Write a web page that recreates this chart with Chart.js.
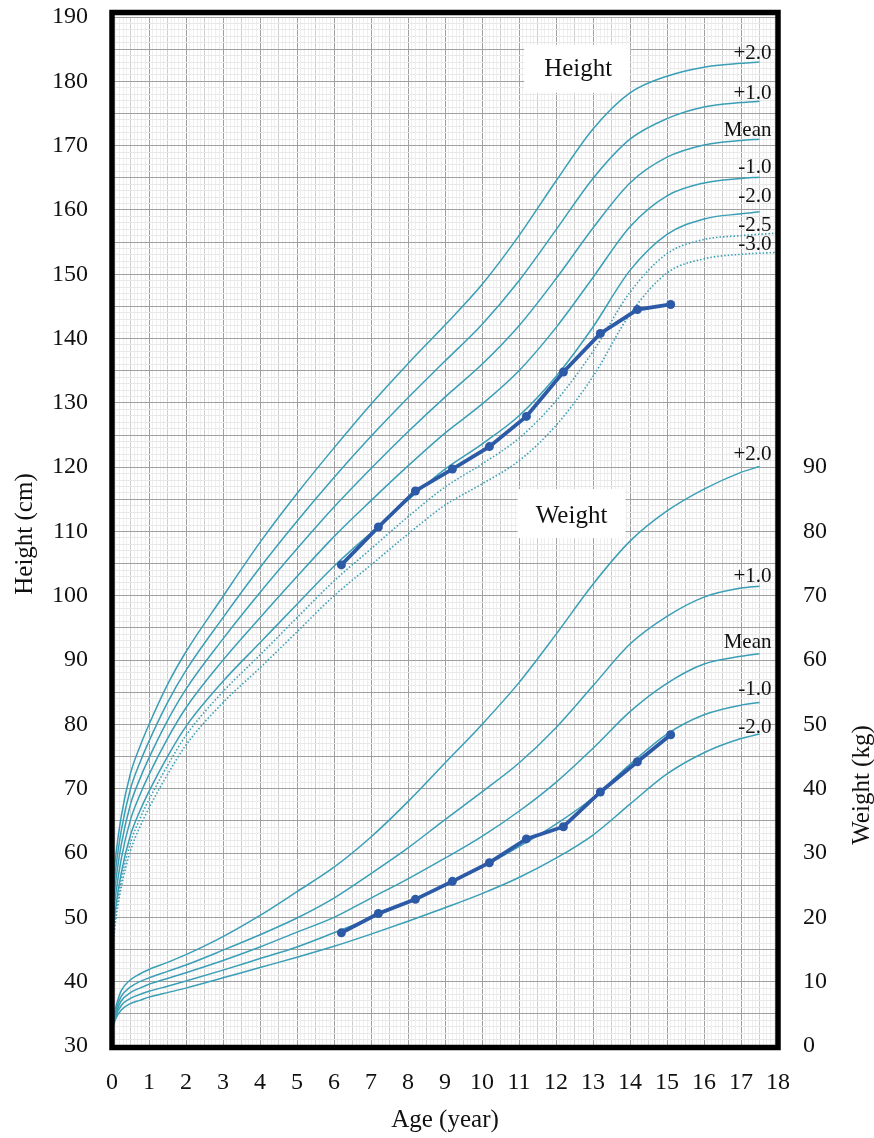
<!DOCTYPE html>
<html>
<head>
<meta charset="utf-8">
<title>Growth chart</title>
<script src="https://cdn.jsdelivr.net/npm/chart.js@4.4.1/dist/chart.umd.min.js"></script>
<style>
  html, body { margin: 0; padding: 0; background: #fff; }
  #wrap { width: 874px; height: 1138px; position: relative; }
</style>
</head>
<body>
<div id="wrap"><canvas id="growth"></canvas></div>
<script>
// --- Data ---
const ages = [0, 0.1, 0.25, 0.5, 0.75, 1, 1.5, 2, 3, 4, 5, 6, 7, 8, 9, 10, 11, 12, 13, 14, 15, 16, 17, 17.5];
const dottedAges = [0, 0.1, 0.25, 0.5, 0.75, 1, 1.5, 2, 3, 4, 5, 6, 7, 8, 9, 10, 11, 12, 13, 14, 15, 16, 17, 18];

// Height reference curves (cm)
const heightP2   = [53.8, 59.5, 65.7, 72.4, 76.5, 80.0, 86.2, 91.3, 99.9, 108.3, 115.9, 123.0, 129.8, 136.1, 142.1, 148.4, 156.0, 164.5, 172.6, 178.2, 180.8, 182.2, 182.8, 183.0];
const heightP1   = [51.9, 57.5, 63.5, 70.0, 74.0, 77.4, 83.4, 88.4, 96.6, 104.4, 111.6, 118.4, 124.8, 130.8, 136.5, 142.2, 149.0, 156.9, 164.9, 171.0, 174.2, 176.0, 176.7, 176.9];
const heightMean = [50.0, 55.5, 61.3, 67.6, 71.5, 74.8, 80.6, 85.5, 93.3, 100.5, 107.3, 113.8, 119.8, 125.5, 130.9, 136.0, 142.0, 149.3, 157.2, 164.2, 168.2, 170.1, 170.8, 171.0];
const heightM1   = [48.1, 53.5, 59.1, 65.2, 69.0, 72.2, 77.8, 82.6, 90.0, 96.6, 103.0, 109.2, 114.8, 120.2, 125.3, 129.8, 135.0, 141.7, 149.5, 157.4, 162.2, 164.2, 164.9, 165.1];
const heightM2   = [46.2, 51.5, 56.9, 62.8, 66.5, 69.6, 75.0, 79.7, 86.7, 92.7, 98.7, 104.6, 109.8, 114.9, 119.7, 123.6, 128.0, 134.1, 141.8, 150.6, 156.2, 158.6, 159.4, 159.7];
const heightM25  = [45.3, 50.5, 55.8, 61.6, 65.3, 68.3, 73.6, 78.3, 85.1, 90.8, 96.6, 102.3, 107.3, 112.3, 116.9, 120.5, 124.5, 130.3, 138.0, 147.2, 153.2, 155.4, 156.0, 156.4];
const heightM3   = [44.3, 49.5, 54.7, 60.4, 64.0, 67.0, 72.2, 76.8, 83.4, 88.8, 94.4, 100.0, 104.8, 109.6, 114.1, 117.4, 121.0, 126.5, 134.1, 143.8, 150.2, 152.4, 153.1, 153.4];

// Weight reference curves (kg)
const weightP2   = [3.6, 6.0, 8.6, 10.3, 11.2, 11.9, 13.0, 14.2, 17.0, 20.3, 24.0, 27.8, 32.5, 38.0, 44.0, 50.0, 56.5, 64.0, 71.8, 78.5, 83.2, 86.6, 89.2, 90.1];
const weightP1   = [3.3, 5.5, 7.7, 9.2, 10.0, 10.6, 11.6, 12.6, 14.9, 17.3, 19.9, 23.0, 26.8, 30.8, 35.2, 39.5, 44.0, 49.5, 56.0, 62.5, 66.8, 69.8, 71.2, 71.5];
const weightMean = [3.0, 5.0, 7.0, 8.3, 9.0, 9.6, 10.5, 11.4, 13.3, 15.4, 17.7, 20.0, 23.0, 26.0, 29.2, 32.6, 36.5, 41.0, 46.3, 52.0, 56.4, 59.4, 60.6, 61.0];
const weightM1   = [2.7, 4.6, 6.3, 7.4, 8.0, 8.5, 9.3, 10.1, 11.8, 13.6, 15.4, 17.6, 19.9, 22.4, 25.0, 27.8, 31.0, 34.5, 38.6, 43.8, 48.5, 51.5, 53.0, 53.4];
const weightM2   = [2.4, 4.2, 5.6, 6.6, 7.1, 7.6, 8.3, 9.0, 10.6, 12.2, 13.8, 15.5, 17.4, 19.4, 21.5, 23.7, 26.2, 29.2, 32.8, 37.6, 42.3, 45.6, 47.8, 48.5];

// Patient measurements
const patientAges   = [6.2, 7.2, 8.2, 9.2, 10.2, 11.2, 12.2, 13.2, 14.2, 15.1];
const patientHeight = [104.8, 110.7, 116.3, 119.7, 123.2, 127.9, 134.8, 140.8, 144.5, 145.3];
const patientWeight = [17.6, 20.6, 22.8, 25.6, 28.5, 32.2, 34.1, 39.5, 44.2, 48.4];

// Tick labels
const ageTicks = [0, 1, 2, 3, 4, 5, 6, 7, 8, 9, 10, 11, 12, 13, 14, 15, 16, 17, 18];
const heightTicks = [30, 40, 50, 60, 70, 80, 90, 100, 110, 120, 130, 140, 150, 160, 170, 180, 190];
const weightTicks = [0, 10, 20, 30, 40, 50, 60, 70, 80, 90];

const SERIF = '"Liberation Serif", "Times New Roman", serif';
const CURVE = '#3a9fb6';
const PATIENT = '#2c5aa6';

const pts = (xs, ys) => ys.map((y, i) => ({ x: xs[i], y: y }));

function curve(xs, ys, axis, dotted) {
    return {
        data: pts(xs, ys),
        yAxisID: axis,
        borderColor: CURVE,
        borderWidth: dotted ? 1.6 : 1.5,
        borderDash: dotted ? [1.5, 2] : [],
        pointRadius: 0,
        cubicInterpolationMode: 'monotone',
        fill: false,
        order: 1
    };
}

function patient(ys, axis) {
    return {
        data: pts(patientAges, ys),
        yAxisID: axis,
        borderColor: PATIENT,
        backgroundColor: PATIENT,
        borderWidth: 3.8,
        pointRadius: 4.5,
        pointBackgroundColor: PATIENT,
        pointBorderWidth: 0,
        tension: 0,
        fill: false,
        order: 0
    };
}

const datasets = [
    patient(patientHeight, 'y'),
    patient(patientWeight, 'y1'),
    curve(ages, heightP2, 'y'),
    curve(ages, heightP1, 'y'),
    curve(ages, heightMean, 'y'),
    curve(ages, heightM1, 'y'),
    curve(ages, heightM2, 'y'),
    curve(dottedAges, heightM25, 'y', true),
    curve(dottedAges, heightM3, 'y', true),
    curve(ages, weightP2, 'y1'),
    curve(ages, weightP1, 'y1'),
    curve(ages, weightMean, 'y1'),
    curve(ages, weightM1, 'y1'),
    curve(ages, weightM2, 'y1')
];

// curve labels: dataset index, text, vertical offset above the line end
const curveLabels = [
    [2, '+2.0', -9], [3, '+1.0', -8], [4, 'Mean', -9], [5, '-1.0', -10],
    [6, '-2.0', -15], [7, '-2.5', -10], [8, '-3.0', -10],
    [9, '+2.0', -12], [10, '+1.0', -10], [11, 'Mean', -11], [12, '-1.0', -13], [13, '-2.0', -7]
];

const isStep = (v, s) => Math.abs(v / s - Math.round(v / s)) < 1e-6;

const noPad = (s) => { s.paddingTop = 0; s.paddingBottom = 0; s.paddingLeft = 0; s.paddingRight = 0; };

const decor = {
    id: 'decor',
    beforeDatasetsDraw(chart) {
        const { ctx, scales: { x, y, y1 } } = chart;
        ctx.save();
        ctx.fillStyle = '#fff';
        // "Height" and "Weight" label boxes
        let cx = x.getPixelForValue(12.6), cy = y.getPixelForValue(181.8);
        ctx.fillRect(cx - 54, cy - 25, 106, 48);
        cx = x.getPixelForValue(12.42); cy = y1.getPixelForValue(82.4);
        ctx.fillRect(cx - 54, cy - 27, 108, 49);
        ctx.restore();
    },
    afterDatasetsDraw(chart) {
        const { ctx, scales: { x, y, y1 } } = chart;
        ctx.save();
        ctx.fillStyle = '#111';
        ctx.textBaseline = 'middle';
        ctx.textAlign = 'center';
        ctx.font = '25px ' + SERIF;
        ctx.fillText('Height', x.getPixelForValue(12.6), y.getPixelForValue(181.8));
        ctx.fillText('Weight', x.getPixelForValue(12.42), y1.getPixelForValue(82.4));

        ctx.font = '21px ' + SERIF;
        ctx.textAlign = 'right';
        const lx = x.getPixelForValue(17.5) + 12;
        curveLabels.forEach(([i, txt, dy]) => {
            const d = chart.data.datasets[i].data;
            const sc = chart.scales[chart.data.datasets[i].yAxisID];
            const py = sc.getPixelForValue(i === 7 || i === 8 ? d[d.length - 2].y : d[d.length - 1].y);
            ctx.fillText(txt, lx, py + dy);
        });
        ctx.restore();
    },
    afterDraw(chart) {
        const { ctx, chartArea: a } = chart;
        ctx.save();
        ctx.strokeStyle = '#000';
        ctx.lineWidth = 5.5;
        ctx.strokeRect(a.left, a.top - 4.5, a.right - a.left, a.bottom - a.top + 6);

        ctx.fillStyle = '#111';
        ctx.font = '25px ' + SERIF;
        ctx.textAlign = 'center';
        ctx.textBaseline = 'middle';
        ctx.fillText('Age (year)', (a.left + a.right) / 2, 1120);

        ctx.translate(25, 534);
        ctx.rotate(-Math.PI / 2);
        ctx.fillText('Height (cm)', 0, 0);
        ctx.restore();

        ctx.save();
        ctx.fillStyle = '#111';
        ctx.font = '25px ' + SERIF;
        ctx.textAlign = 'center';
        ctx.textBaseline = 'middle';
        ctx.translate(862, 785);
        ctx.rotate(-Math.PI / 2);
        ctx.fillText('Weight (kg)', 0, 0);
        ctx.restore();
    }
};

const canvas = document.getElementById('growth');
canvas.width = 874;
canvas.height = 1138;

new Chart(canvas, {
    type: 'line',
    data: { datasets: datasets },
    plugins: [decor],
    options: {
        responsive: false,
        animation: false,
        events: [],
        layout: { padding: { top: 17, left: 0, right: 0, bottom: 0 } },
        plugins: { legend: { display: false }, tooltip: { enabled: false } },
        scales: {
            x: {
                type: 'linear',
                min: 0,
                max: 18,
                afterFit: (s) => { s.height = 92; noPad(s); },
                border: { display: false },
                grid: {
                    drawTicks: false,
                    color: (c) => {
                        const v = c.tick.value;
                        if (isStep(v, 1)) return '#a0a0a0';
                        if (isStep(v, 0.5)) return '#cfcfcf';
                        return '#efefef';
                    },
                    lineWidth: 1
                },
                ticks: {
                    stepSize: 0.1,
                    autoSkip: false,
                    maxRotation: 0,
                    padding: 22,
                    color: '#111',
                    font: { family: SERIF, size: 24 },
                    callback: (v) => {
                        const r = Math.round(v);
                        return isStep(v, 1) && ageTicks.includes(r) ? String(r) : '';
                    }
                }
            },
            y: {
                type: 'linear',
                position: 'left',
                min: 30,
                max: 190,
                afterFit: (s) => { s.width = 112; noPad(s); },
                border: { display: false },
                grid: {
                    drawTicks: false,
                    color: (c) => {
                        const v = c.tick.value;
                        if (isStep(v, 5)) return '#a0a0a0';
                        return '#e8e8e8';
                    },
                    lineWidth: 1
                },
                ticks: {
                    stepSize: 1,
                    autoSkip: false,
                    padding: 24,
                    color: '#111',
                    font: { family: SERIF, size: 24 },
                    callback: (v) => heightTicks.includes(v) ? String(v) : ''
                }
            },
            y1: {
                type: 'linear',
                position: 'right',
                min: 0,
                max: 160,
                afterFit: (s) => { s.width = 96; noPad(s); },
                border: { display: false },
                grid: { display: false, drawTicks: false },
                ticks: {
                    stepSize: 10,
                    autoSkip: false,
                    padding: 25,
                    color: '#111',
                    font: { family: SERIF, size: 24 },
                    callback: (v) => weightTicks.includes(v) ? String(v) : ''
                }
            }
        }
    }
});
</script>
</body>
</html>
